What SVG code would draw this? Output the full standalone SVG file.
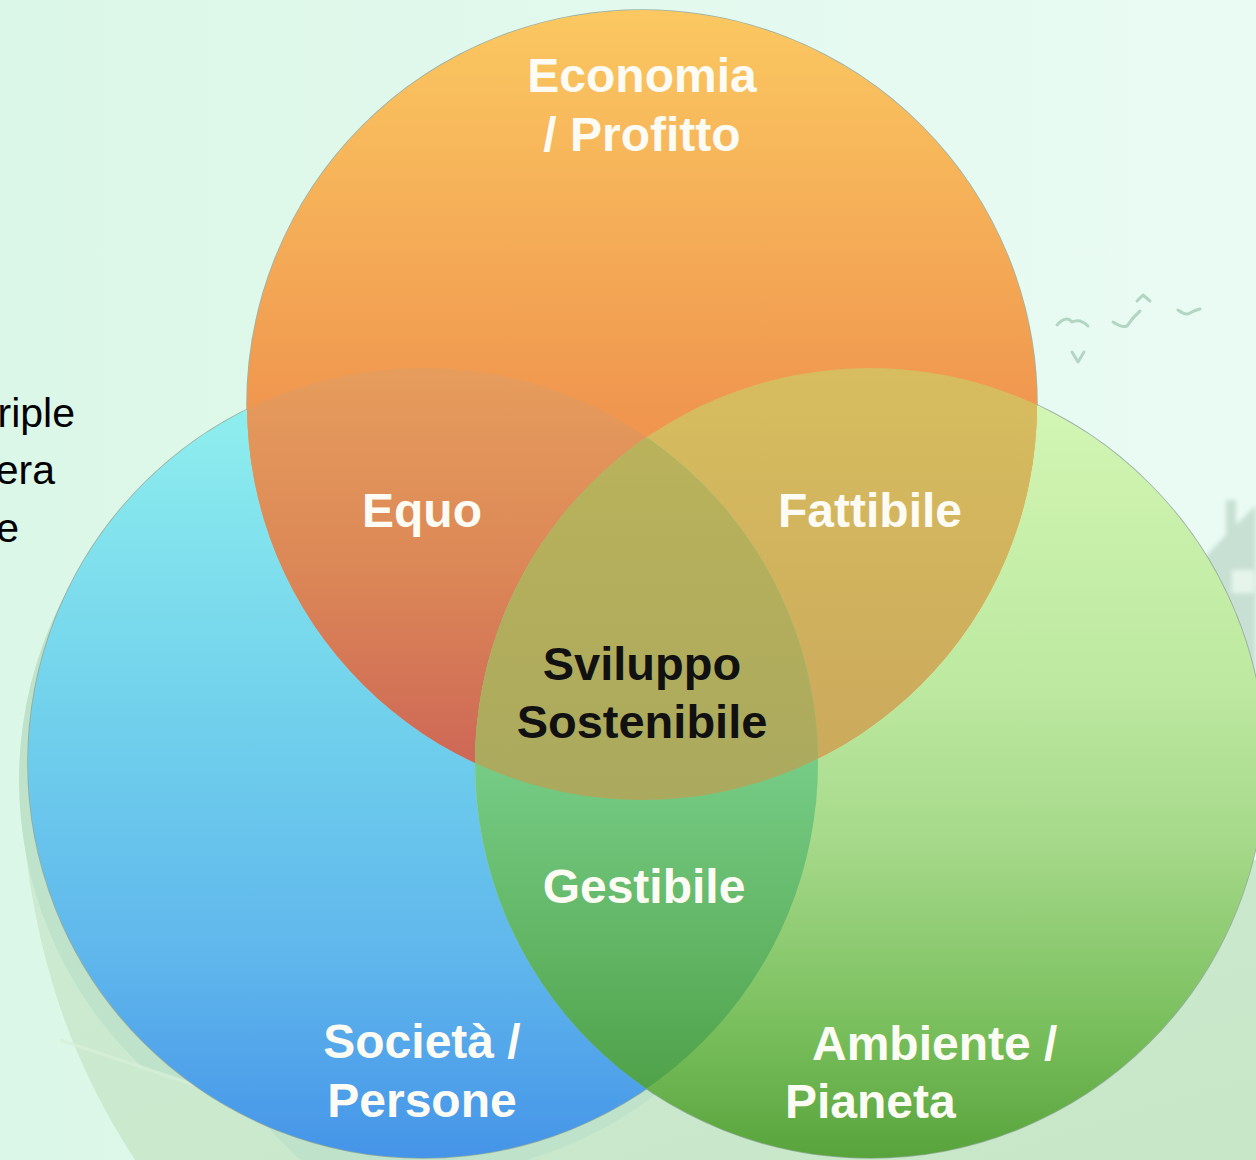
<svg xmlns="http://www.w3.org/2000/svg" width="1256" height="1160" viewBox="0 0 1256 1160">
  <defs>
    <linearGradient id="bg" x1="0" y1="0" x2="1" y2="0">
      <stop offset="0" stop-color="#dbf7e7"/>
      <stop offset="1" stop-color="#eafbf4"/>
    </linearGradient>
    <linearGradient id="ground" x1="0" y1="0" x2="1" y2="1">
      <stop offset="0" stop-color="#cdebd3"/>
      <stop offset="1" stop-color="#c8e7c8"/>
    </linearGradient>
    <linearGradient id="gO" gradientUnits="userSpaceOnUse" x1="0" y1="10" x2="0" y2="800">
      <stop offset="0" stop-color="#fbc861"/>
      <stop offset="0.5" stop-color="#f0974f"/>
      <stop offset="1" stop-color="#ec864d"/>
    </linearGradient>
    <linearGradient id="gB" gradientUnits="userSpaceOnUse" x1="0" y1="368" x2="0" y2="1158">
      <stop offset="0" stop-color="#92f2ee"/>
      <stop offset="0.45" stop-color="#70d0ec"/>
      <stop offset="0.75" stop-color="#5fb6ec"/>
      <stop offset="1" stop-color="#4594e8"/>
    </linearGradient>
    <linearGradient id="gG" gradientUnits="userSpaceOnUse" x1="0" y1="368" x2="0" y2="1158">
      <stop offset="0" stop-color="#d5f7b6"/>
      <stop offset="0.4" stop-color="#bde9a0"/>
      <stop offset="0.6" stop-color="#a6d98a"/>
      <stop offset="0.85" stop-color="#76bd5a"/>
      <stop offset="1" stop-color="#58a33c"/>
    </linearGradient>
    <linearGradient id="gOB" gradientUnits="userSpaceOnUse" x1="0" y1="368" x2="0" y2="770">
      <stop offset="0" stop-color="#e69d5c"/>
      <stop offset="0.5" stop-color="#dc8757"/>
      <stop offset="1" stop-color="#cd6656"/>
    </linearGradient>
    <linearGradient id="gOG" gradientUnits="userSpaceOnUse" x1="0" y1="368" x2="0" y2="790">
      <stop offset="0" stop-color="#d7bd5f"/>
      <stop offset="1" stop-color="#caa85c"/>
    </linearGradient>
    <linearGradient id="gBG" gradientUnits="userSpaceOnUse" x1="0" y1="760" x2="0" y2="1100">
      <stop offset="0" stop-color="#76cc86"/>
      <stop offset="0.5" stop-color="#63b767"/>
      <stop offset="1" stop-color="#4ea047"/>
    </linearGradient>
    <linearGradient id="gC" gradientUnits="userSpaceOnUse" x1="0" y1="440" x2="0" y2="800">
      <stop offset="0" stop-color="#bab25b"/>
      <stop offset="1" stop-color="#aaa95e"/>
    </linearGradient>
    <clipPath id="cO"><circle cx="642" cy="405" r="395"/></clipPath>
    <clipPath id="cB"><circle cx="423" cy="763" r="395"/></clipPath>
    <clipPath id="cG"><circle cx="870" cy="763" r="395"/></clipPath>
    <clipPath id="cShadow"><polygon points="0,0 1256,0 1256,1160 300,1160 240,1100 60,1040 0,1030"/></clipPath>
    <filter id="blur" x="-20%" y="-20%" width="140%" height="140%">
      <feGaussianBlur stdDeviation="2"/>
    </filter>
    <style>
      .lbl { font-family: "Liberation Sans", Arial, sans-serif; font-weight: bold; font-size: 48px; fill: #fdfcf4; }
      .dark { fill: #111111; }
      .side { font-family: "Liberation Sans", Arial, sans-serif; font-size: 41px; fill: #000000; }
      .edge { fill: none; stroke: #7d9488; stroke-width: 1.6; stroke-opacity: 0.7; }
      .bird { fill: none; stroke: #b3d5c4; stroke-width: 3; stroke-linecap: round; stroke-linejoin: round; }
    </style>
  </defs>

  <g id="background">
    <rect x="0" y="0" width="1256" height="1160" fill="url(#bg)"/>
    <path d="M20,790 C30,950 70,1060 135,1160 L1256,1160 L1256,860 Z" fill="url(#ground)"/>
    <circle cx="415" cy="780" r="396" fill="#bfe2cb" clip-path="url(#cShadow)"/>
    <path d="M60,1040 L240,1100" fill="none" stroke="#d6efd8" stroke-width="3" opacity="0.8"/>
    <g filter="url(#blur)">
      <polygon points="1200,562 1226,535 1226,500 1236,500 1236,525 1256,505 1256,700 1200,700" fill="#c8e0d3"/>
      <rect x="1232" y="570" width="22" height="23" fill="#e6f5ec"/>
    </g>
    <g id="birds">
      <path class="bird" d="M1057,325 Q1066,315 1072,322 Q1080,318 1088,326"/>
      <path class="bird" d="M1113,322 Q1122,328 1127,326 Q1132,318 1140,311"/>
      <path class="bird" d="M1137,301 L1143,295 L1150,301"/>
      <path class="bird" d="M1178,310 Q1186,316 1190,313 Q1195,310 1200,309"/>
      <path class="bird" d="M1072,352 L1078,362 L1084,352"/>
    </g>
  </g>

  <g id="side-text">
    <text class="side" x="75" y="427" text-anchor="end">riple</text>
    <text class="side" x="55" y="484" text-anchor="end">era</text>
    <text class="side" x="19" y="542" text-anchor="end">e</text>
  </g>

  <g id="outlines">
    <circle class="edge" cx="642" cy="405" r="395"/>
    <circle class="edge" cx="423" cy="763" r="395"/>
    <circle class="edge" cx="870" cy="763" r="395"/>
  </g>

  <g id="node-societa">
    <circle cx="423" cy="763" r="395" fill="url(#gB)"/>
  </g>
  <g id="node-ambiente">
    <circle cx="870" cy="763" r="395" fill="url(#gG)"/>
  </g>
  <g id="node-economia">
    <circle cx="642" cy="405" r="395" fill="url(#gO)"/>
  </g>

  <g id="node-equo">
    <g clip-path="url(#cO)"><circle cx="423" cy="763" r="395" fill="url(#gOB)"/></g>
  </g>
  <g id="node-fattibile">
    <g clip-path="url(#cO)"><circle cx="870" cy="763" r="395" fill="url(#gOG)"/></g>
  </g>
  <g id="node-gestibile">
    <g clip-path="url(#cB)"><circle cx="870" cy="763" r="395" fill="url(#gBG)"/></g>
  </g>
  <g id="node-sviluppo">
    <g clip-path="url(#cO)"><g clip-path="url(#cB)"><circle cx="870" cy="763" r="395" fill="url(#gC)"/></g></g>
  </g>

  <g id="labels">
    <text class="lbl" x="642" y="92" text-anchor="middle">Economia</text>
    <text class="lbl" x="642" y="151" text-anchor="middle">/ Profitto</text>
    <text class="lbl" x="422" y="527" text-anchor="middle">Equo</text>
    <text class="lbl" x="870" y="527" text-anchor="middle">Fattibile</text>
    <text class="lbl dark" x="642" y="680" text-anchor="middle" style="font-size:47px">Sviluppo</text>
    <text class="lbl dark" x="642" y="738" text-anchor="middle" style="font-size:47px">Sostenibile</text>
    <text class="lbl" x="644" y="903" text-anchor="middle">Gestibile</text>
    <text class="lbl" x="422" y="1058" text-anchor="middle">Società /</text>
    <text class="lbl" x="422" y="1117" text-anchor="middle">Persone</text>
    <text class="lbl" x="812" y="1060">Ambiente /</text>
    <text class="lbl" x="785" y="1118">Pianeta</text>
  </g>

  <g id="connectors"/>
</svg>
